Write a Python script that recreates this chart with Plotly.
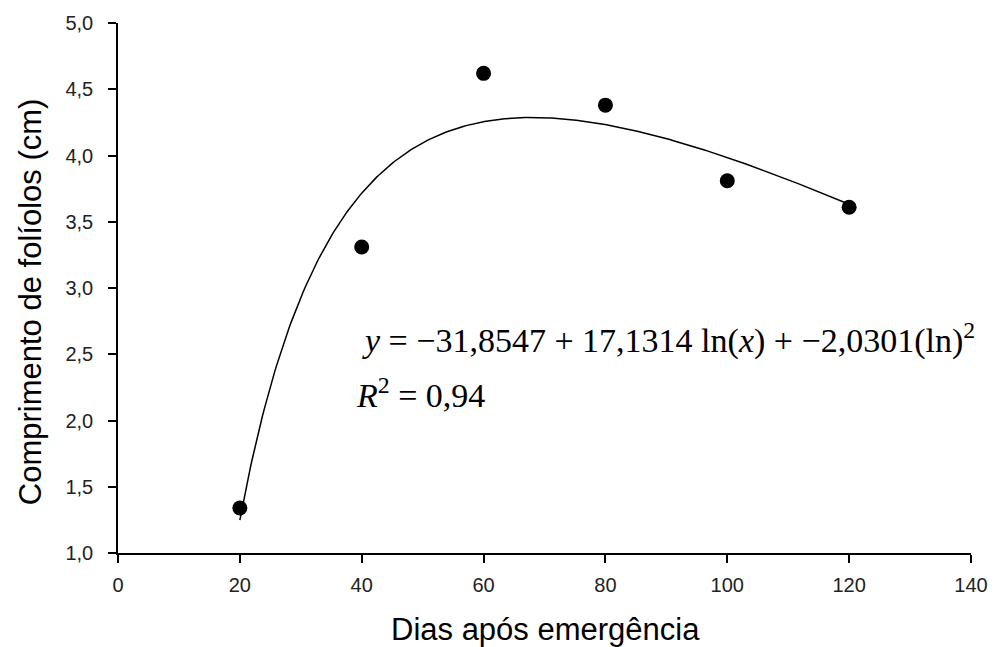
import numpy as np
import plotly.graph_objects as go

# Observed data
dias = [20, 40, 60, 80, 100, 120]
comprimento = [1.34, 3.31, 4.62, 4.38, 3.81, 3.61]

# Regression coefficients shown on the chart: y = a + b ln(x) + c ln(x)^2
coef_a = -31.8547
coef_b = 17.1314
coef_c = -2.0301

x_ticks = [0, 20, 40, 60, 80, 100, 120, 140]
x_ticktext = ["0", "20", "40", "60", "80", "100", "120", "140"]
y_ticks = [1.0, 1.5, 2.0, 2.5, 3.0, 3.5, 4.0, 4.5, 5.0]
y_ticktext = ["1,0", "1,5", "2,0", "2,5", "3,0", "3,5", "4,0", "4,5", "5,0"]

xf = np.linspace(min(dias), max(dias), 300)
lx = np.log(xf)
yf = coef_a + coef_b * lx + coef_c * lx ** 2

fig = go.Figure()
fig.add_trace(go.Scatter(x=xf, y=yf, mode="lines",
                         line=dict(color="black", width=1.5), showlegend=False))
fig.add_trace(go.Scatter(x=dias, y=comprimento, mode="markers",
                         marker=dict(color="black", size=15), showlegend=False))

axis_font = dict(family="Liberation Sans, Arial", size=20, color="#222")
fig.update_layout(
    width=1000, height=647,
    margin=dict(l=118, r=26, t=19, b=94),
    paper_bgcolor="white", plot_bgcolor="white",
    xaxis=dict(range=[0, 140], tickvals=x_ticks, ticktext=x_ticktext,
               showline=True, linecolor="black", linewidth=1.5,
               ticks="outside", ticklen=8, tickwidth=1.5, tickcolor="black",
               showgrid=False, zeroline=False, tickfont=axis_font,
               ticklabelstandoff=5),
    yaxis=dict(range=[1.0, 5.0], tickvals=y_ticks, ticktext=y_ticktext,
               showline=True, linecolor="black", linewidth=1.5,
               ticks="outside", ticklen=8, tickwidth=1.5, tickcolor="black",
               showgrid=False, zeroline=False, tickfont=axis_font,
               ticklabelstandoff=11),
)

pw, ph = 1000 - 118 - 26, 647 - 19 - 94


def px_x(p):
    return (p - 118) / pw


def px_y(p):
    return 1 - (p - 19) / ph


title_font = dict(family="Liberation Sans, Arial", size=31, color="black")
fig.add_annotation(x=px_x(547), y=px_y(630), xref="paper", yref="paper",
                   showarrow=False, xanchor="center", yanchor="middle",
                   text="Dias após emergência", font=title_font)
fig.add_annotation(x=px_x(31), y=px_y(300), xref="paper", yref="paper",
                   showarrow=False, xanchor="center", yanchor="middle",
                   textangle=-90, text="Comprimento de folíolos (cm)", font=title_font)

serif = dict(family="Liberation Serif, Times New Roman", size=34, color="black")
fig.add_annotation(x=px_x(361), y=px_y(337), xref="paper", yref="paper",
                   showarrow=False, xanchor="left", yanchor="middle",
                   text="<i>y</i> = −31,8547 + 17,1314 ln(<i>x</i>) + −2,0301(ln)<sup>2</sup>",
                   font=serif)
fig.add_annotation(x=px_x(355), y=px_y(392), xref="paper", yref="paper",
                   showarrow=False, xanchor="left", yanchor="middle",
                   text="<i>R</i><sup>2</sup> = 0,94", font=serif)

fig.write_html("out.html", config={"displayModeBar": False},
               post_script="document.body.style.margin='0';document.body.style.padding='0';")
